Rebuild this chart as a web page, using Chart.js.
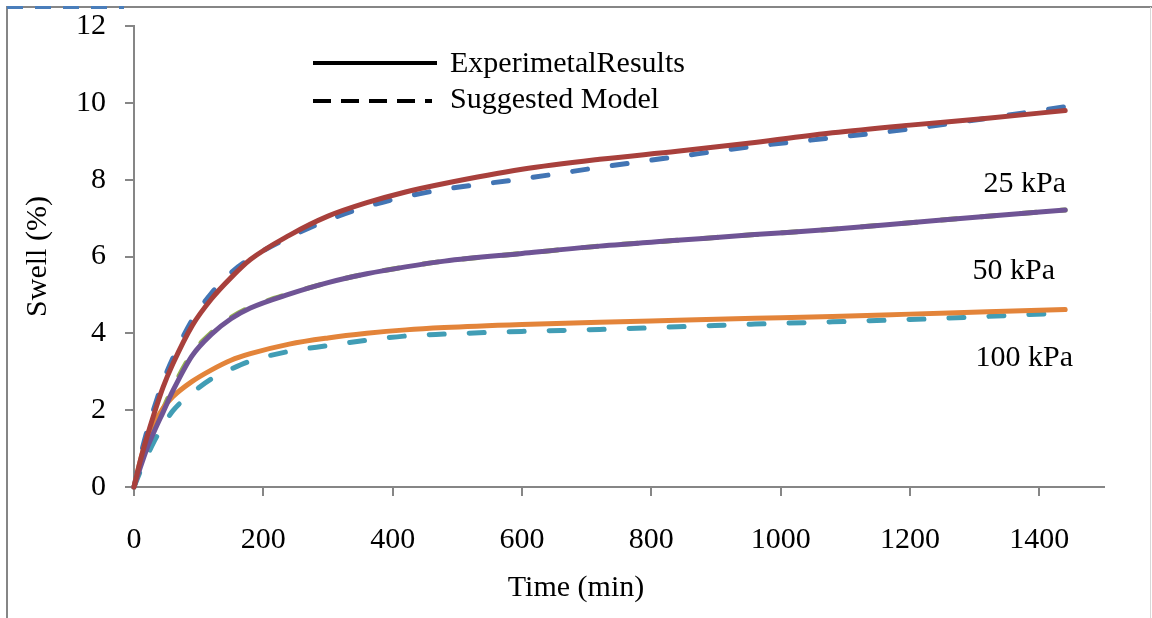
<!DOCTYPE html>
<html>
<head>
<meta charset="utf-8">
<script src="https://cdn.jsdelivr.net/npm/chart.js@4/dist/chart.umd.min.js"></script>
<style>
  body { margin: 0; background: #fff; }
  #wrap { width: 1152px; height: 618px; }
</style>
</head>
<body>
<div id="wrap"><canvas id="swellChart" width="1152" height="618"></canvas></div>
<script>
// time steps (min)
const times = [0, 10, 20, 30, 45, 60, 90, 120, 150, 180, 240, 300, 360, 420, 480, 600, 720, 840, 960, 1080, 1200, 1320, 1440];

// 25 kPa
const exp25 = [0, 0.7, 1.3, 1.85, 2.6, 3.2, 4.2, 4.9, 5.45, 5.92, 6.55, 7.05, 7.4, 7.68, 7.9, 8.27, 8.53, 8.74, 8.97, 9.22, 9.42, 9.6, 9.8];
const model25 = [0, 0.8, 1.45, 2.0, 2.75, 3.35, 4.35, 5.05, 5.58, 5.95, 6.5, 6.95, 7.3, 7.56, 7.75, 8.02, 8.32, 8.6, 8.87, 9.09, 9.32, 9.6, 9.9];
// 50 kPa
const exp50 = [0, 0.52, 1.0, 1.4, 1.95, 2.5, 3.42, 3.98, 4.38, 4.66, 5.02, 5.32, 5.55, 5.73, 5.88, 6.08, 6.27, 6.42, 6.57, 6.71, 6.88, 7.05, 7.21];
const model50 = [0, 0.56, 1.05, 1.47, 2.03, 2.58, 3.48, 4.02, 4.41, 4.68, 5.03, 5.32, 5.55, 5.73, 5.88, 6.08, 6.27, 6.42, 6.57, 6.71, 6.88, 7.05, 7.21];
// 100 kPa
const exp100 = [0, 0.7, 1.25, 1.62, 2.05, 2.35, 2.75, 3.05, 3.3, 3.47, 3.72, 3.88, 4.0, 4.09, 4.15, 4.23, 4.29, 4.34, 4.39, 4.44, 4.5, 4.56, 4.62];
const model100 = [0, 0.42, 0.8, 1.15, 1.6, 1.98, 2.45, 2.82, 3.07, 3.28, 3.53, 3.68, 3.82, 3.93, 3.98, 4.05, 4.1, 4.17, 4.24, 4.3, 4.36, 4.44, 4.53];

const xTicks = [0, 200, 400, 600, 800, 1000, 1200, 1400];
const pressureLabels = ["25 kPa", "50 kPa", "100 kPa"];
const legendLabels = ["ExperimetalResults", "Suggested Model"];

const serif = "'Liberation Serif', 'Times New Roman', serif";
const axisGray = "#868686";

function pts(vals) {
    return times.map((t, i) => ({ x: t, y: vals[i] }));
}

function series(label, vals, color, dashed) {
    return {
        label: label,
        data: pts(vals),
        borderColor: color,
        borderWidth: 5,
        borderDash: dashed ? [15, 25] : [],
        borderCapStyle: "round",
        pointRadius: 0,
        cubicInterpolationMode: "monotone",
        clip: 8
    };
}

// extra drawing: frame, legend, pressure labels, x title
const decorations = {
    id: "decorations",
    beforeDraw(chart) {
        const ctx = chart.ctx;
        ctx.save();
        ctx.fillStyle = "#fff";
        ctx.fillRect(0, 0, chart.width, chart.height);
        ctx.strokeStyle = axisGray;
        ctx.lineWidth = 2;
        ctx.beginPath();
        ctx.moveTo(7, 618);
        ctx.lineTo(7, 7);
        ctx.lineTo(1152, 7);
        ctx.stroke();
        ctx.strokeStyle = "#d8d8d8";
        ctx.lineWidth = 1;
        ctx.beginPath();
        ctx.moveTo(1150.5, 7);
        ctx.lineTo(1150.5, 618);
        ctx.stroke();
        ctx.strokeStyle = "#4a7ebb";
        ctx.lineWidth = 3;
        ctx.setLineDash([16, 12]);
        ctx.beginPath();
        ctx.moveTo(7, 7.5);
        ctx.lineTo(124, 7.5);
        ctx.stroke();
        ctx.restore();
    },
    afterDraw(chart) {
        const ctx = chart.ctx;
        ctx.save();
        ctx.fillStyle = "#000";
        ctx.strokeStyle = "#000";
        ctx.lineWidth = 4;
        ctx.beginPath();
        ctx.moveTo(313, 63);
        ctx.lineTo(437, 63);
        ctx.stroke();
        ctx.setLineDash([18, 10]);
        ctx.beginPath();
        ctx.moveTo(313, 101);
        ctx.lineTo(432, 101);
        ctx.stroke();
        ctx.setLineDash([]);

        ctx.font = "30px " + serif;
        ctx.textBaseline = "middle";
        ctx.textAlign = "left";
        ctx.fillText(legendLabels[0], 450, 64);
        ctx.fillText(legendLabels[1], 450, 100);

        ctx.textAlign = "right";
        ctx.fillText(pressureLabels[0], 1066, 184);
        ctx.fillText(pressureLabels[1], 1055, 271);
        ctx.fillText(pressureLabels[2], 1073, 358);

        ctx.textAlign = "center";
        ctx.fillText("Time (min)", 576, 588);
        ctx.restore();
    }
};

new Chart(document.getElementById("swellChart"), {
    type: "line",
    data: {
        datasets: [
            series("25 kPa experimental", exp25, "#a8403c", false),
            series("50 kPa experimental", exp50, "#6f5495", false),
            series("100 kPa experimental", exp100, "#e3843a", false),
            series("25 kPa model", model25, "#4275b4", true),
            series("50 kPa model", model50, "#93b44f", true),
            series("100 kPa model", model100, "#419db5", true)
        ]
    },
    options: {
        responsive: false,
        animation: false,
        devicePixelRatio: 1,
        layout: { padding: { left: 0, top: 26, right: 48, bottom: 0 } },
        plugins: {
            legend: { display: false },
            tooltip: { enabled: false }
        },
        scales: {
            x: {
                type: "linear",
                min: 0,
                max: 1500,
                afterBuildTicks: (scale) => {
                    scale.ticks = xTicks.map(v => ({ value: v }));
                },
                afterFit: (scale) => {
                    scale.height = 131;
                    scale.paddingLeft = 0;
                    scale.paddingRight = 0;
                },
                grid: { drawOnChartArea: false, color: axisGray, lineWidth: 2, tickLength: 9 },
                border: { color: axisGray, width: 2 },
                ticks: {
                    color: "#000",
                    font: { family: serif, size: 30 },
                    padding: 26,
                    maxRotation: 0,
                    callback: (v) => String(v)
                }
            },
            y: {
                min: 0,
                max: 12,
                ticks: { stepSize: 2, color: "#000", font: { family: serif, size: 30 }, padding: 19 },
                afterFit: (scale) => {
                    scale.width = 134;
                    scale.paddingTop = 0;
                    scale.paddingBottom = 0;
                },
                grid: { drawOnChartArea: false, color: axisGray, lineWidth: 2, tickLength: 9 },
                border: { color: axisGray, width: 2 },
                title: {
                    display: true,
                    text: "Swell (%)",
                    color: "#000",
                    font: { family: serif, size: 30 },
                    padding: { top: 20, bottom: 0 }
                }
            }
        }
    },
    plugins: [decorations]
});
</script>
</body>
</html>
